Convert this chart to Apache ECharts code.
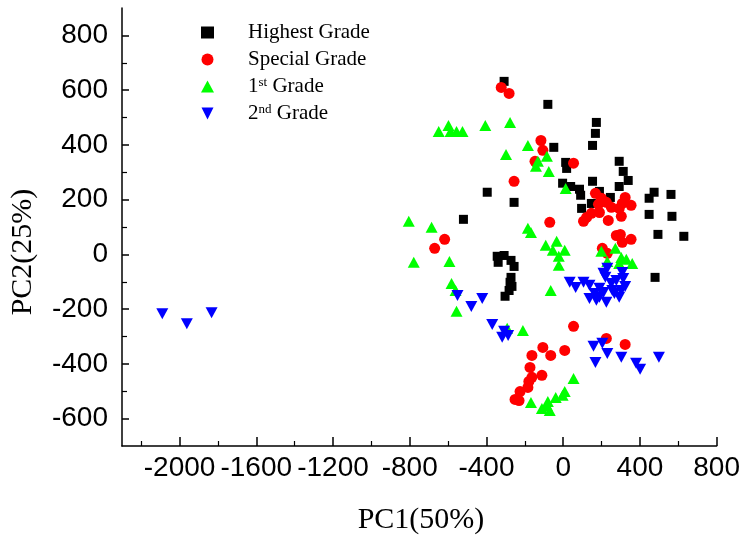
<!DOCTYPE html>
<html>
<head>
<meta charset="utf-8">
<script src="https://cdn.jsdelivr.net/npm/echarts@6/dist/echarts.min.js"></script>
<style>
html,body{margin:0;padding:0;background:#fff;}
#chart{width:743px;height:537px;}
</style>
</head>
<body>
<div id="chart"></div>
<script>
const seriesNames = ['Highest Grade', 'Special Grade', '1st Grade', '2nd Grade'];

const highestGrade = [
  [-308,632],[-80,548],[173,482],[168,442],[153,398],[-49,391],[13,336],[18,314],
  [292,340],[313,303],[339,270],[292,248],[153,267],[-3,260],[39,248],[85,238],
  [91,216],[147,186],[96,168],[189,230],[246,208],[448,205],[474,227],[562,219],
  [448,146],[567,139],[494,73],[629,66],[479,-84],[-396,227],[-256,190],[-520,128],
  [-344,-7],[-308,-4],[-272,-22],[-256,-44],[-339,-29],[-272,-84],[-277,-102],
  [-267,-117],[-282,-132],[-303,-153]
];

const specialGrade = [
  [-323,610],[-282,588],[-116,416],[-106,380],[-147,340],[54,333],[-256,267],
  [-70,117],[-618,55],[-670,22],[168,223],[199,205],[225,190],[251,172],[323,208],
  [354,179],[308,186],[292,168],[303,139],[235,124],[147,150],[122,135],[106,121],
  [277,69],[298,73],[308,44],[354,55],[204,22],[230,4],[184,183],[189,153],
  [54,-263],[225,-307],[323,-329],[-106,-340],[-163,-369],[-65,-369],[8,-351],
  [-173,-413],[-111,-442],[-163,-449],[-179,-464],[-184,-486],[-225,-501],
  [-251,-530],[-230,-534]
];

const firstGrade = [
  [-649,449],[-598,471],[-587,449],[-556,449],[-525,449],[-406,471],[-277,482],
  [-298,365],[-184,398],[-85,358],[-132,340],[-142,322],[-75,303],[13,241],
  [-805,121],[-686,99],[-779,-29],[-593,-26],[-582,-106],[-561,-132],[-556,-208],
  [-184,95],[-168,80],[-91,33],[-34,48],[-54,15],[8,15],[-23,-7],[-23,-40],
  [-65,-132],[199,11],[272,22],[230,-26],[303,-11],[329,-18],[360,-33],[292,-33],
  [-292,-270],[-210,-278],[54,-453],[8,-501],[-3,-515],[-39,-523],[-80,-537],
  [-168,-541],[-111,-563],[-70,-570],[-85,-552]
];

const secondGrade = [
  [-2090,-217],[-1962,-253],[-1833,-213],[-551,-150],[-479,-190],[-422,-161],
  [-370,-256],[-308,-281],[-318,-303],[-287,-296],[34,-102],[65,-121],[106,-102],
  [137,-113],[137,-161],[163,-143],[189,-124],[210,-69],[230,-51],[220,-84],
  [225,-175],[256,-132],[277,-95],[308,-66],[313,-88],[323,-117],[292,-157],
  [267,-143],[189,-157],[173,-168],[210,-139],[251,-106],[303,-132],[158,-336],
  [204,-325],[230,-362],[168,-395],[303,-376],[380,-398],[401,-420],[499,-376]
];

const xTickLabels = [-2000,-1600,-1200,-800,-400,0,400,800];
const xMinorTicks = [-2200,-1800,-1400,-1000,-600,-200,200,600];
const yTickLabels = [-600,-400,-200,0,200,400,600,800];
const yMinorTicks = [-500,-300,-100,100,300,500,700];
const xRange = [-2300, 800];
const yRange = [-700, 900];
const xTitle = 'PC1(50%)';
const yTitle = 'PC2(25%)';

const invTri = 'path://M0,0L10,0L5,10Z';
const colors = ['#000000','#ff0000','#00ff00','#0000ff'];
const symbols = ['rect','circle','triangle',invTri];
const sizes = [9, 11, [12,11], [12,11]];
const datasets = [highestGrade, specialGrade, firstGrade, secondGrade];

const chart = echarts.init(document.getElementById('chart'), null, {renderer:'canvas'});

const labelFont = {fontFamily:'Liberation Sans, Arial, sans-serif', fontSize:28, color:'#000'};

function mainAxis(range, ticks, pos, isX){
  return {
    type:'value', min:range[0], max:range[1], position:pos,
    axisLine:{show:true, onZero:false, lineStyle:{color:'#000', width:1.5}},
    axisTick:{show:true, inside:true, length:isX?9:7, lineStyle:{color:'#000', width:1.5}, customValues:ticks},
    axisLabel:Object.assign({show:true, margin:isX?8:14, customValues:ticks,
      showMinLabel:true, showMaxLabel:true, hideOverlap:false,
      formatter:function(v){return String(v);}}, labelFont),
    splitLine:{show:false}
  };
}
function minorAxis(range, ticks, pos){
  return {
    type:'value', min:range[0], max:range[1], position:pos,
    axisLine:{show:false, onZero:false},
    axisTick:{show:true, inside:true, length:5, lineStyle:{color:'#000', width:1.2}, customValues:ticks},
    axisLabel:{show:false},
    splitLine:{show:false}
  };
}

const option = {
  animation:false,
  backgroundColor:'#fff',
  grid:{left:122, right:23, top:8, bottom:91, containLabel:false},
  xAxis:[mainAxis(xRange, xTickLabels, 'bottom', true), minorAxis(xRange, xMinorTicks, 'bottom')],
  yAxis:[mainAxis(yRange, yTickLabels, 'left', false), minorAxis(yRange, yMinorTicks, 'left')],
  legend:{
    orient:'vertical', left:196, top:17, itemWidth:13, itemHeight:12, itemGap:6,
    data:seriesNames.map((n,i)=>({name:n, icon:symbols[i]})),
    formatter:function(name){
      if(name==='1st Grade') return '1{sup|st} Grade';
      if(name==='2nd Grade') return '2{sup|nd} Grade';
      return name;
    },
    textStyle:{fontFamily:'Liberation Serif, Times New Roman, serif', fontSize:21, lineHeight:21, color:'#000',
      padding:[0,0,0,29],
      rich:{sup:{fontFamily:'Liberation Serif, Times New Roman, serif', fontSize:13, color:'#000', verticalAlign:'top', lineHeight:21}}}
  },
  graphic:[
    {type:'text', position:[421,520], style:{text:xTitle, font:'30px "Liberation Serif", "Times New Roman", serif', fill:'#000', textAlign:'center', textVerticalAlign:'middle'}},
    {type:'text', rotation:Math.PI/2, position:[23,252], style:{text:yTitle, font:'30px "Liberation Serif", "Times New Roman", serif', fill:'#000', textAlign:'center', textVerticalAlign:'middle'}}
  ],
  series:datasets.map((d,i)=>({
    name:seriesNames[i], type:'scatter', xAxisIndex:0, yAxisIndex:0,
    symbol:symbols[i], symbolSize:sizes[i], symbolKeepAspect:false,
    itemStyle:{color:colors[i], opacity:1},
    data:d
  }))
};
chart.setOption(option);
</script>
</body>
</html>
